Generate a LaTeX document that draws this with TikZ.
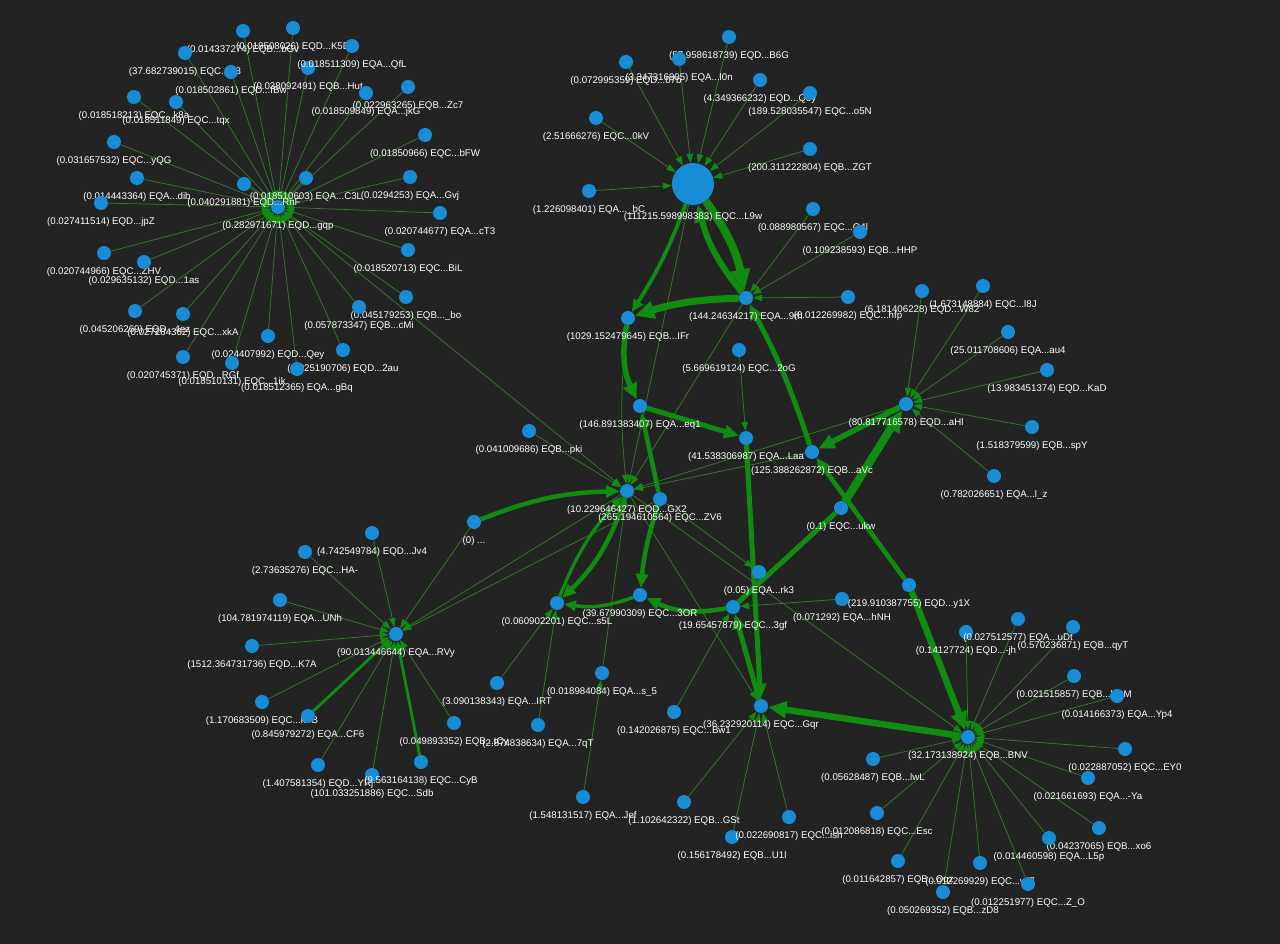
\documentclass[tikz,border=0pt]{standalone}
\usepackage{fontspec}
\setmainfont{Liberation Sans}
\usepackage{xcolor}
\usepackage{tikz}
\usetikzlibrary{arrows.meta}

\definecolor{canvas}{RGB}{35,35,35}
\definecolor{dotblue}{RGB}{24,140,212}
\definecolor{flowgreen}{RGB}{16,140,16}
\definecolor{linkgreen}{RGB}{52,122,40}

\pgfdeclarelayer{back}
\pgfdeclarelayer{edges}
\pgfsetlayers{back,edges,main}

\begin{document}
\begin{tikzpicture}[x=1pt, y=-1pt,
        dot/.style={circle, fill=dotblue, minimum size=14pt, inner sep=0pt},
        hub/.style={circle, fill=dotblue, minimum size=42pt, inner sep=0pt},
        every label/.style={text=white, inner sep=0pt, font=\fontsize{9.7}{11}\selectfont},
        label distance=7.5pt,
        link/.style={draw=linkgreen, line width=0.75pt, -{Triangle[length=9pt, width=6.5pt, color=flowgreen]}},
        flow/.style={draw=flowgreen, -{Triangle[length=4pt 2.2, width=3pt 2]}}
    ]
        \useasboundingbox (0,0) rectangle (1280,944);
        \begin{pgfonlayer}{back}
            \fill[canvas] (0,0) rectangle (1280,944);
        \end{pgfonlayer}

        % upper left star
        \node[dot, label=below:{(0.282971671) EQD...gqp}] (gqp) at (278,207) {};
        \node[dot, label=below:{(0.018508026) EQD...K5D}] (K5D) at (293,28) {};
        \node[dot, label=below:{(0.014337274) EQB...bGv}] (bGv) at (243,31) {};
        \node[dot, label=below:{(37.682739015) EQC...-r3}] (r3) at (185,53) {};
        \node[dot, label=below:{(0.018502861) EQD...fBw}] (fBw) at (231,72) {};
        \node[dot, label=below:{(0.038092491) EQB...Hut}] (Hut) at (308,68) {};
        \node[dot, label=below:{(0.018511309) EQA...QfL}] (QfL) at (352,46) {};
        \node[dot, label=below:{(0.022963265) EQB...Zc7}] (Zc7) at (408,87) {};
        \node[dot, label=below:{(0.018509849) EQA...jkG}] (jkG) at (366,93) {};
        \node[dot, label=below:{(0.018518213) EQC...k8a}] (k8a) at (134,97) {};
        \node[dot, label=below:{(0.018511849) EQC...tqx}] (tqx) at (176,102) {};
        \node[dot, label=below:{(0.01850966) EQC...bFW}] (bFW) at (425,135) {};
        \node[dot, label=below:{(0.031657532) EQC...yQG}] (yQG) at (114,142) {};
        \node[dot, label=below:{(0.014443364) EQA...dib}] (dib) at (137,178) {};
        \node[dot, label=below:{(0.040291881) EQD...RnF}] (RnF) at (244,184) {};
        \node[dot, label=below:{(0.018510603) EQA...C3L}] (C3L) at (306,178) {};
        \node[dot, label=below:{(0.0294253) EQA...Gvj}] (Gvj) at (410,177) {};
        \node[dot, label=below:{(0.027411514) EQD...jpZ}] (jpZ) at (101,203) {};
        \node[dot, label=below:{(0.020744677) EQA...cT3}] (cT3) at (440,213) {};
        \node[dot, label=below:{(0.020744966) EQC...ZHV}] (ZHV) at (104,253) {};
        \node[dot, label=below:{(0.029635132) EQD...1as}] (as1) at (144,262) {};
        \node[dot, label=below:{(0.018520713) EQC...BiL}] (BiL) at (408,250) {};
        \node[dot, label=below:{(0.045206269) EQD...4ez}] (ez4) at (135,311) {};
        \node[dot, label=below:{(0.027284362) EQC...xkA}] (xkA) at (183,314) {};
        \node[dot, label=below:{(0.045179253) EQB...\_bo}] (bo) at (406,297) {};
        \node[dot, label=below:{(0.057873347) EQB...cMi}] (cMi) at (359,307) {};
        \node[dot, label=below:{(0.024407992) EQD...Qey}] (Qey) at (268,336) {};
        \node[dot, label=below:{(0.025190706) EQD...2au}] (au2) at (343,350) {};
        \node[dot, label=below:{(0.020745371) EQD...RGf}] (RGf) at (183,357) {};
        \node[dot, label=below:{(0.018510131) EQC...1ik}] (ik1) at (232,363) {};
        \node[dot, label=below:{(0.018512365) EQA...gBq}] (gBq) at (297,369) {};

        % upper middle star
        \node[hub, label=below:{(111215.598998383) EQC...L9w}] (L9w) at (693,184) {};
        \node[dot, label=below:{(57.958618739) EQD...B6G}] (B6G) at (729,37) {};
        \node[dot, label=below:{(0.072995359) EQD...07b}] (b07) at (626,62) {};
        \node[dot, label=below:{(3.347316905) EQA...l0n}] (l0n) at (679,59) {};
        \node[dot, label=below:{(4.349366232) EQD...Qoy}] (Qoy) at (760,80) {};
        \node[dot, label=below:{(189.528035547) EQC...o5N}] (o5N) at (810,93) {};
        \node[dot, label=below:{(2.51666276) EQC...0kV}] (kV0) at (596,118) {};
        \node[dot, label=below:{(200.311222804) EQB...ZGT}] (ZGT) at (810,149) {};
        \node[dot, label=below:{(1.226098401) EQA...\_bC}] (bC) at (589,191) {};
        \node[dot, label=below:{(0.088980567) EQC...Q4l}] (Q4l) at (813,209) {};
        \node[dot, label=below:{(0.109238593) EQB...HHP}] (HHP) at (860,232) {};

        % centre
        \node[dot, label=below:{(144.24634217) EQA...9rh}] (9rh) at (746,298) {};
        \node[dot, label=below:{(0.012269982) EQC...hfp}] (hfp) at (848,297) {};
        \node[dot, label=below:{(1029.152479645) EQB...IFr}] (IFr) at (628,318) {};
        \node[dot, label=below:{(5.669619124) EQC...2oG}] (oG2) at (739,350) {};
        \node[dot, label=below:{(146.891383407) EQA...eq1}] (eq1) at (640,406) {};
        \node[dot, label=below:{(0.041009686) EQB...pki}] (pki) at (529,431) {};
        \node[dot, label=below:{(41.538306987) EQA...Laa}] (Laa) at (746,438) {};
        \node[dot, label=below:{(125.388262872) EQB...aVc}] (aVc) at (812,452) {};
        \node[dot, label=below:{(10.229646427) EQD...GX2}] (GX2) at (627,491) {};
        \node[dot, label=below:{(265.194610564) EQC...ZV6}] (ZV6) at (660,499) {};
        \node[dot, label=below:{(0) ...}] (zero) at (474,522) {};
        \node[dot, label=below:{(0.1) EQC...ukw}] (ukw) at (841,508) {};
        \node[dot, label=below:{(0.05) EQA...rk3}] (rk3) at (759,572) {};
        \node[dot, label=below:{(0.060902201) EQC...s5L}] (s5L) at (557,603) {};
        \node[dot, label=below:{(39.67990309) EQC...3OR}] (OR3) at (640,595) {};
        \node[dot, label=below:{(19.65457879) EQC...3gf}] (gf3) at (733,607) {};
        \node[dot, label=below:{(0.071292) EQA...hNH}] (hNH) at (842,599) {};
        \node[dot, label=below:{(219.910387755) EQD...y1X}] (y1X) at (909,585) {};

        % right star
        \node[dot, label=below:{(80.817716578) EQD...aHl}] (aHl) at (906,404) {};
        \node[dot, label=below:{(6.181406228) EQD...W82}] (W82) at (922,291) {};
        \node[dot, label=below:{(1.673148884) EQC...l8J}] (l8J) at (983,286) {};
        \node[dot, label=below:{(25.011708606) EQA...au4}] (au4) at (1008,332) {};
        \node[dot, label=below:{(13.983451374) EQD...KaD}] (KaD) at (1047,370) {};
        \node[dot, label=below:{(1.518379599) EQB...spY}] (spY) at (1032,427) {};
        \node[dot, label=below:{(0.782026651) EQA...l\_z}] (lz) at (994,476) {};

        % lower left star
        \node[dot, label=below:{(90.013446644) EQA...RVy}] (RVy) at (396,634) {};
        \node[dot, label=below:{(4.742549784) EQD...Jv4}] (Jv4) at (372,533) {};
        \node[dot, label=below:{(2.73635276) EQC...HA-}] (HA) at (305,552) {};
        \node[dot, label=below:{(104.781974119) EQA...UNh}] (UNh) at (280,600) {};
        \node[dot, label=below:{(1512.364731736) EQD...K7A}] (K7A) at (252,646) {};
        \node[dot, label=below:{(1.170683509) EQC...kTB}] (kTB) at (262,702) {};
        \node[dot, label=below:{(0.845979272) EQA...CF6}] (CF6) at (308,716) {};
        \node[dot, label=below:{(0.049893352) EQB...tCy}] (tCy) at (454,723) {};
        \node[dot, label=below:{(1.407581354) EQD...YRj}] (YRj) at (318,765) {};
        \node[dot, label=below:{(101.033251886) EQC...Sdb}] (Sdb) at (372,775) {};
        \node[dot, label=below:{(9.563164138) EQC...CyB}] (CyB) at (421,762) {};

        % lower middle
        \node[dot, label=below:{(3.090138343) EQA...IRT}] (IRT) at (497,683) {};
        \node[dot, label=below:{(2.874838634) EQA...7qT}] (qT7) at (538,725) {};
        \node[dot, label=below:{(0.018984084) EQA...s\_5}] (s5) at (602,673) {};
        \node[dot, label=below:{(1.548131517) EQA...Jef}] (Jef) at (583,797) {};
        \node[dot, label=below:{(0.142026875) EQC...Bw1}] (Bw1) at (674,712) {};
        \node[dot, label=below:{(36.232920114) EQC...Gqr}] (Gqr) at (761,706) {};
        \node[dot, label=below:{(1.102642322) EQB...GSt}] (GSt) at (684,802) {};
        \node[dot, label=below:{(0.156178492) EQB...U1l}] (U1l) at (732,837) {};
        \node[dot, label=below:{(0.022690817) EQC...ish}] (ish) at (789,817) {};

        % lower right star
        \node[dot, label=below:{(32.173138924) EQB...BNV}] (BNV) at (968,737) {};
        \node[dot, label=below:{(0.14127724) EQD...-jh}] (jh) at (966,632) {};
        \node[dot, label=below:{(0.027512577) EQA...uDt}] (uDt) at (1018,619) {};
        \node[dot, label=below:{(0.570236871) EQB...qyT}] (qyT) at (1073,627) {};
        \node[dot, label=below:{(0.021515857) EQB...bQM}] (bQM) at (1074,676) {};
        \node[dot, label=below:{(0.014166373) EQA...Yp4}] (Yp4) at (1117,696) {};
        \node[dot, label=below:{(0.022887052) EQC...EY0}] (EY0) at (1125,749) {};
        \node[dot, label=below:{(0.021661693) EQA...-Ya}] (Ya) at (1088,778) {};
        \node[dot, label=below:{(0.05628487) EQB...lwL}] (lwL) at (873,759) {};
        \node[dot, label=below:{(0.012086818) EQC...Esc}] (Esc) at (877,813) {};
        \node[dot, label=below:{(0.04237065) EQB...xo6}] (xo6) at (1099,828) {};
        \node[dot, label=below:{(0.014460598) EQA...L5p}] (L5p) at (1049,838) {};
        \node[dot, label=below:{(0.011642857) EQB...Oqz}] (Oqz) at (898,861) {};
        \node[dot, label=below:{(0.012269929) EQC...wl7}] (wl7) at (980,863) {};
        \node[dot, label=below:{(0.050269352) EQB...zD8}] (zD8) at (943,892) {};
        \node[dot, label=below:{(0.012251977) EQC...Z\_O}] (ZO) at (1028,884) {};

        \begin{pgfonlayer}{edges}
        % thin links
        \draw[link] (K5D) -- (gqp);
        \draw[link] (bGv) -- (gqp);
        \draw[link] (r3) -- (gqp);
        \draw[link] (fBw) -- (gqp);
        \draw[link] (Hut) -- (gqp);
        \draw[link] (QfL) -- (gqp);
        \draw[link] (Zc7) -- (gqp);
        \draw[link] (jkG) -- (gqp);
        \draw[link] (k8a) -- (gqp);
        \draw[link] (tqx) -- (gqp);
        \draw[link] (bFW) -- (gqp);
        \draw[link] (yQG) -- (gqp);
        \draw[link] (dib) -- (gqp);
        \draw[link] (RnF) -- (gqp);
        \draw[link] (C3L) -- (gqp);
        \draw[link] (Gvj) -- (gqp);
        \draw[link] (jpZ) -- (gqp);
        \draw[link] (cT3) -- (gqp);
        \draw[link] (ZHV) -- (gqp);
        \draw[link] (as1) -- (gqp);
        \draw[link] (BiL) -- (gqp);
        \draw[link] (ez4) -- (gqp);
        \draw[link] (xkA) -- (gqp);
        \draw[link] (bo) -- (gqp);
        \draw[link] (cMi) -- (gqp);
        \draw[link] (Qey) -- (gqp);
        \draw[link] (au2) -- (gqp);
        \draw[link] (RGf) -- (gqp);
        \draw[link] (ik1) -- (gqp);
        \draw[link] (gBq) -- (gqp);
        \draw[link] (gqp) -- (GX2);

        \draw[link] (B6G) -- (L9w);
        \draw[link] (b07) -- (L9w);
        \draw[link] (l0n) -- (L9w);
        \draw[link] (Qoy) -- (L9w);
        \draw[link] (o5N) -- (L9w);
        \draw[link] (kV0) -- (L9w);
        \draw[link] (ZGT) -- (L9w);
        \draw[link] (bC) -- (L9w);
        \draw[link] (Q4l) -- (9rh);
        \draw[link] (HHP) -- (9rh);
        \draw[link] (hfp) -- (9rh);

        \draw[link] (L9w) -- (GX2);
        \draw[link] (IFr) to[bend right=6] (GX2);
        \draw[link] (9rh) -- (GX2);
        \draw[link] (oG2) -- (Laa);
        \draw[link] (pki) -- (GX2);
        \draw[link] (aHl) -- (GX2);
        \draw[link] (aVc) -- (GX2);
        \draw[link] (s5) -- (GX2);
        \draw[link] (Jef) -- (s5);
        \draw[link] (GX2) -- (Gqr);
        \draw[link] (GX2) -- (BNV);
        \draw[link] (ZV6) -- (rk3);
        \draw[link] (IRT) -- (s5L);
        \draw[link] (qT7) -- (s5L);
        \draw[link] (Bw1) -- (gf3);
        \draw[link] (hNH) -- (gf3);
        \draw[link] (GSt) -- (Gqr);
        \draw[link] (U1l) -- (Gqr);
        \draw[link] (ish) -- (Gqr);

        \draw[link] (W82) -- (aHl);
        \draw[link] (l8J) -- (aHl);
        \draw[link] (au4) -- (aHl);
        \draw[link] (KaD) -- (aHl);
        \draw[link] (spY) -- (aHl);
        \draw[link] (lz) -- (aHl);

        \draw[link] (zero) -- (RVy);
        \draw[link] (GX2) -- (RVy);
        \draw[link] (ZV6) -- (RVy);
        \draw[link] (Jv4) -- (RVy);
        \draw[link] (HA) -- (RVy);
        \draw[link] (UNh) -- (RVy);
        \draw[link] (K7A) -- (RVy);
        \draw[link] (kTB) -- (RVy);
        \draw[link] (tCy) -- (RVy);
        \draw[link] (YRj) -- (RVy);
        \draw[link] (Sdb) -- (RVy);

        \draw[link] (jh) -- (BNV);
        \draw[link] (uDt) -- (BNV);
        \draw[link] (qyT) -- (BNV);
        \draw[link] (bQM) -- (BNV);
        \draw[link] (Yp4) -- (BNV);
        \draw[link] (EY0) -- (BNV);
        \draw[link] (Ya) -- (BNV);
        \draw[link] (lwL) -- (BNV);
        \draw[link] (Esc) -- (BNV);
        \draw[link] (xo6) -- (BNV);
        \draw[link] (L5p) -- (BNV);
        \draw[link] (Oqz) -- (BNV);
        \draw[link] (wl7) -- (BNV);
        \draw[link] (zD8) -- (BNV);
        \draw[link] (ZO) -- (BNV);

        % heavy flows
        \draw[flow, line width=2.8pt] (CF6) -- (RVy);
        \draw[flow, line width=2.8pt] (CyB) -- (RVy);
        \draw[flow, line width=8pt] (L9w) to[bend left=12] (9rh);
        \draw[flow, line width=6pt] (9rh) to[bend left=12] (L9w);
        \draw[flow, line width=3.8pt] (L9w) to[bend left=6] (IFr);
        \draw[flow, line width=7pt] (9rh) to[bend right=8] (IFr);
        \draw[flow, line width=5.5pt] (IFr) to[bend right=18] (eq1);
        \draw[flow, line width=5pt] (eq1) -- (Laa);
        \draw[flow, line width=4.5pt] (ZV6) -- (eq1);
        \draw[flow, line width=4.5pt] (ZV6) to[bend right=6] (OR3);
        \draw[flow, line width=4.5pt] (GX2) to[bend left=14] (s5L);
        \draw[flow, line width=3.2pt] (s5L) to[bend left=10] (GX2);
        \draw[flow, line width=4.5pt] (zero) to[bend left=10] (GX2);
        \draw[flow, line width=3.5pt] (OR3) to[bend left=14] (s5L);
        \draw[flow, line width=4.5pt] (gf3) to[bend left=18] (OR3);
        \draw[flow, line width=5pt] (Laa) -- (Gqr);
        \draw[flow, line width=5pt] (Gqr) -- (gf3);
        \draw[flow, line width=5pt, -] (gf3) -- (ukw);
        \draw[flow, line width=8pt] (ukw) -- (aHl);
        \draw[flow, line width=5.5pt] (aHl) -- (aVc);
        \draw[flow, line width=5pt] (aVc) to[bend right=5] (9rh);
        \draw[flow, line width=4.5pt] (y1X) -- (aVc);
        \draw[flow, line width=6.5pt] (y1X) -- (BNV);
        \draw[flow, line width=6.5pt] (BNV) -- (Gqr);
        \end{pgfonlayer}
    \end{tikzpicture}
\end{document}
